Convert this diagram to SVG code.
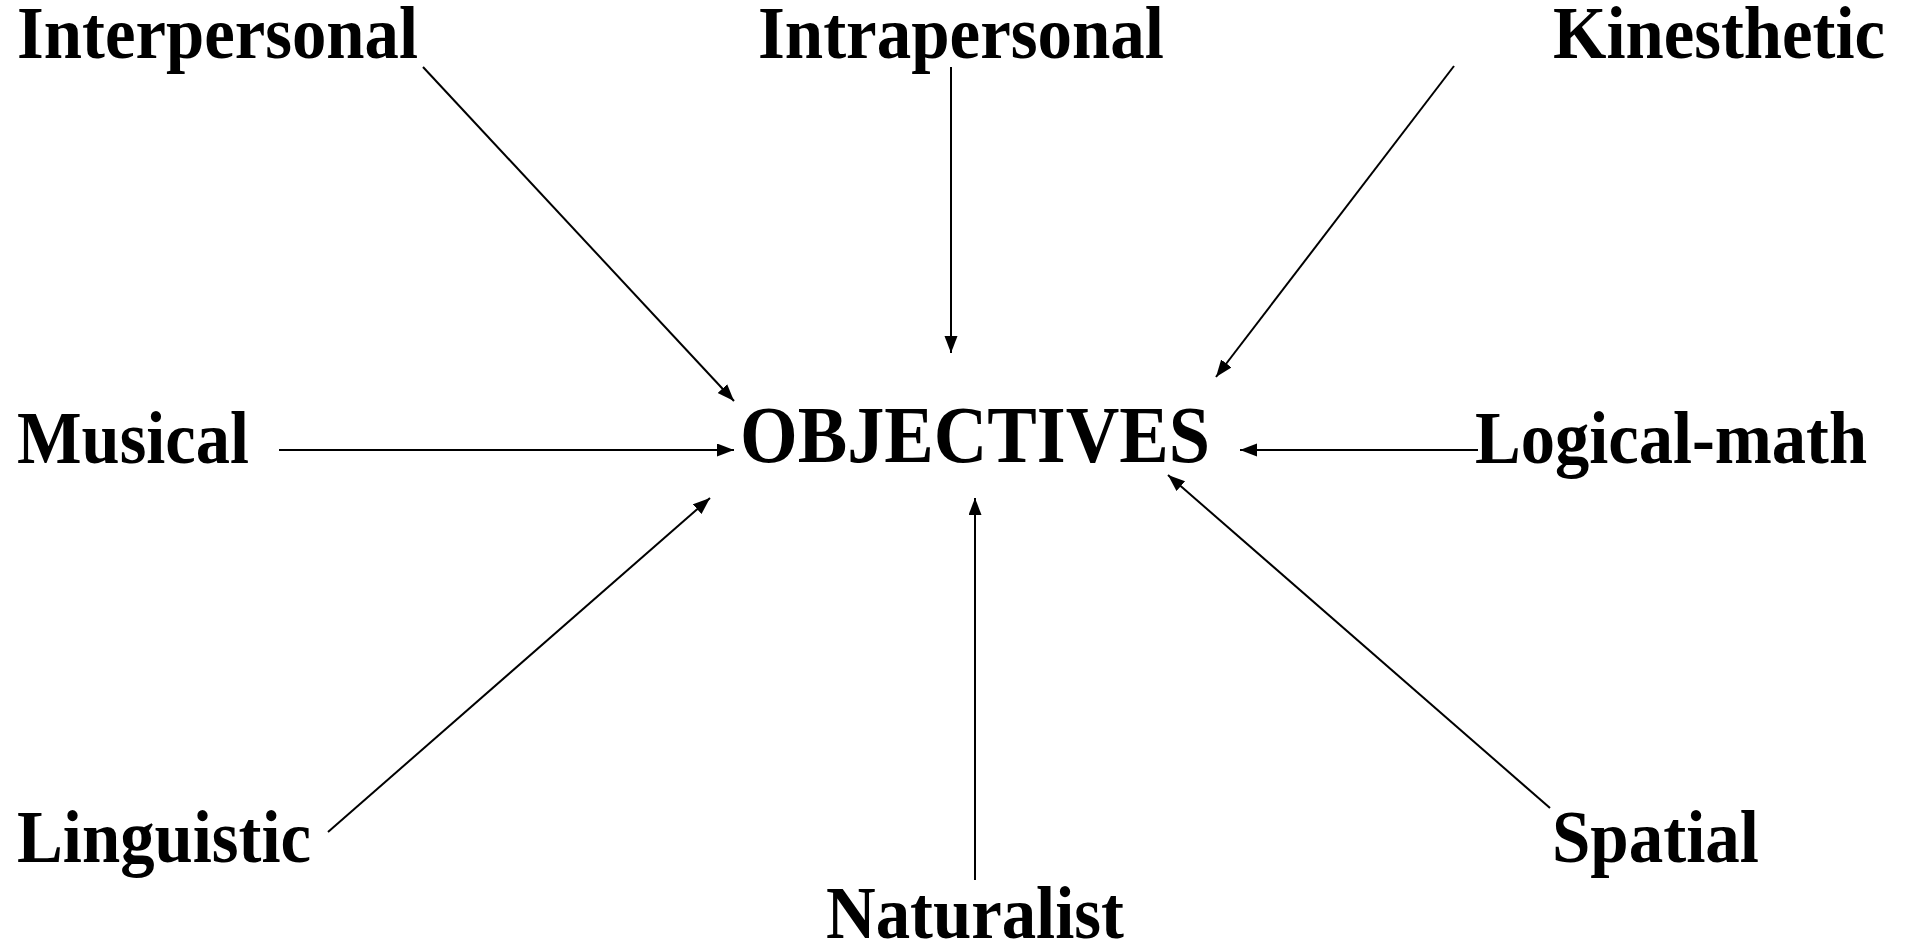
<svg xmlns="http://www.w3.org/2000/svg" width="1911" height="947" viewBox="0 0 1911 947">
<defs>
<style>
.lbl{font-family:"Liberation Serif","Times New Roman",serif;font-weight:bold;font-size:73px;fill:#000}
.ctr{font-family:"Liberation Serif","Times New Roman",serif;font-weight:bold;font-size:81px;fill:#000}
.c{stroke:#000;stroke-width:2;fill:none;marker-end:url(#ah)}
</style>
<marker id="ah" markerUnits="userSpaceOnUse" markerWidth="18" markerHeight="14" refX="17" refY="6.5" orient="auto">
<path d="M0,0 L17,6.5 L0,13 z" fill="#000"/>
</marker>
</defs>
<rect width="1911" height="947" fill="#fff"/>
<g id="connectors">
<line class="c" x1="423" y1="67" x2="734" y2="401"/>
<line class="c" x1="951" y1="67" x2="951" y2="353"/>
<line class="c" x1="1454" y1="66" x2="1216" y2="377"/>
<line class="c" x1="279" y1="450" x2="734" y2="450"/>
<line class="c" x1="1478" y1="450" x2="1240" y2="450"/>
<line class="c" x1="328" y1="832" x2="710" y2="498"/>
<line class="c" x1="975" y1="880" x2="975" y2="498"/>
<line class="c" x1="1550" y1="808" x2="1168" y2="475"/>
</g>
<g id="objectives"><text class="ctr" x="740" y="462" textLength="470" lengthAdjust="spacingAndGlyphs">OBJECTIVES</text></g>
<g id="interpersonal"><text class="lbl" x="17" y="58" textLength="401" lengthAdjust="spacingAndGlyphs">Interpersonal</text></g>
<g id="intrapersonal"><text class="lbl" x="758" y="58" textLength="406" lengthAdjust="spacingAndGlyphs">Intrapersonal</text></g>
<g id="kinesthetic"><text class="lbl" x="1553" y="58" textLength="332" lengthAdjust="spacingAndGlyphs">Kinesthetic</text></g>
<g id="musical"><text class="lbl" x="17" y="463" textLength="232" lengthAdjust="spacingAndGlyphs">Musical</text></g>
<g id="logical-math"><text class="lbl" x="1475" y="463" textLength="392" lengthAdjust="spacingAndGlyphs">Logical-math</text></g>
<g id="linguistic"><text class="lbl" x="17" y="862" textLength="294" lengthAdjust="spacingAndGlyphs">Linguistic</text></g>
<g id="naturalist"><text class="lbl" x="826" y="938" textLength="298" lengthAdjust="spacingAndGlyphs">Naturalist</text></g>
<g id="spatial"><text class="lbl" x="1552" y="862" textLength="207" lengthAdjust="spacingAndGlyphs">Spatial</text></g>
</svg>
